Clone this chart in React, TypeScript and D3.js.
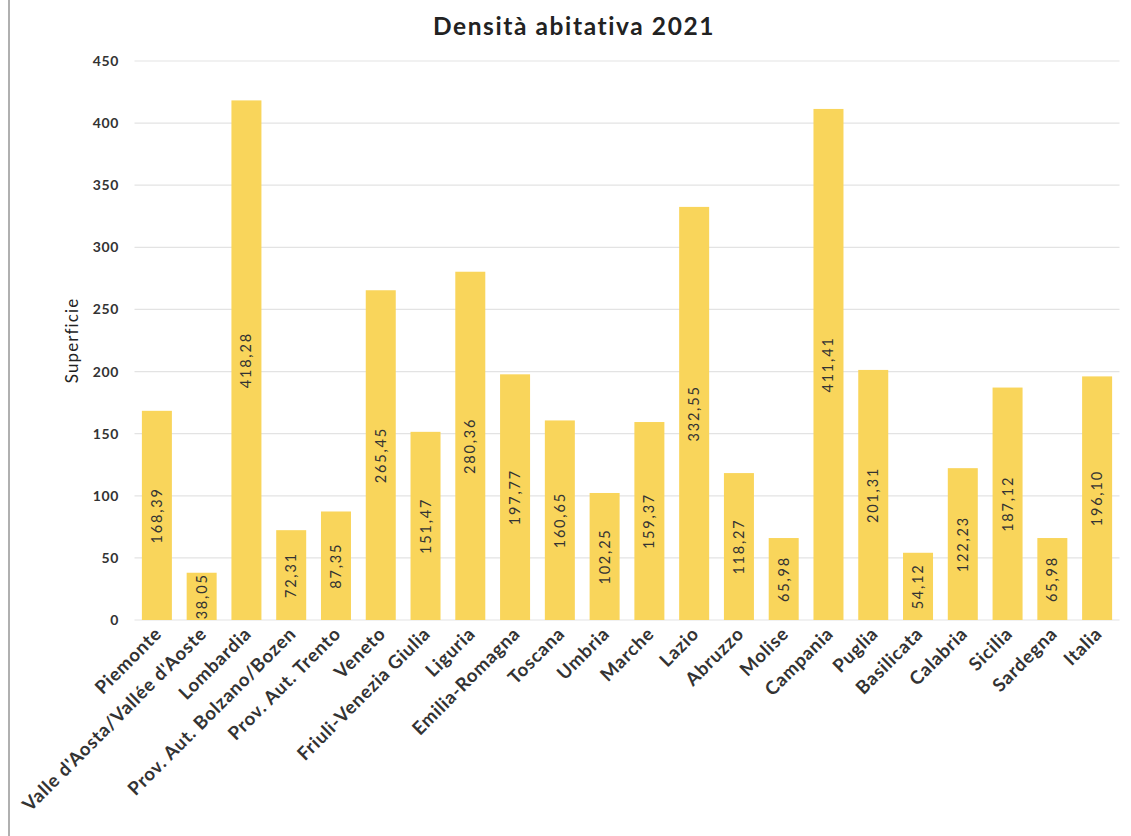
import React from "react";
import * as d3 from "d3";

const categories = [
  "Piemonte", "Valle d'Aosta/Vallée d'Aoste", "Lombardia", "Prov. Aut. Bolzano/Bozen",
  "Prov. Aut. Trento", "Veneto", "Friuli-Venezia Giulia", "Liguria", "Emilia-Romagna",
  "Toscana", "Umbria", "Marche", "Lazio", "Abruzzo", "Molise", "Campania", "Puglia",
  "Basilicata", "Calabria", "Sicilia", "Sardegna", "Italia",
];
const values = [
  168.39, 38.05, 418.28, 72.31, 87.35, 265.45, 151.47, 280.36, 197.77, 160.65, 102.25,
  159.37, 332.55, 118.27, 65.98, 411.41, 201.31, 54.12, 122.23, 187.12, 65.98, 196.1,
];
const yTicks = [0, 50, 100, 150, 200, 250, 300, 350, 400, 450];

const W = 1131, H = 836;
const left = 134.5, right = 1119.5, top = 61, bottom = 620;
const font = "Lato, 'Open Sans', sans-serif";

export default function App() {
  const x = d3.scaleBand<string>().domain(categories).range([left, right]).paddingInner(0.33).paddingOuter(0.165);
  const y = d3.scaleLinear().domain([0, 450]).range([bottom, top]);
  const fmt = (v: number) => v.toFixed(2).replace(".", ",");
  return (
    <svg width={W} height={H} style={{ position: "absolute", left: 0, top: 0, background: "#fff" }}>
      <line x1={9} x2={9} y1={0} y2={H} stroke="#b0b0b0" strokeWidth={2} />
      <text x={574} y={35} textAnchor="middle" fontFamily={font} fontWeight={700} fontSize={24.5} letterSpacing={1.6} fill="#222">
        Densità abitativa 2021
      </text>
      {yTicks.map((t) => (
        <g key={t}>
          <line x1={left} x2={right} y1={y(t)} y2={y(t)} stroke="#e3e3e3" strokeWidth={1.2} />
          <text x={119} y={y(t) + 5} textAnchor="end" fontFamily={font} fontWeight={700} fontSize={14} letterSpacing={0.6} fill="#333">
            {t}
          </text>
        </g>
      ))}
      <text transform={`translate(78,${(top + bottom) / 2}) rotate(-90)`} textAnchor="middle" fontFamily={font} fontSize={17} letterSpacing={1.1} fill="#222">
        Superficie
      </text>
      {categories.map((c, i) => {
        const bx = x(c)!;
        const bw = x.bandwidth();
        const cx = bx + bw / 2;
        const yt = y(values[i]);
        const mid = (yt + bottom) / 2;
        return (
          <g key={c}>
            <rect x={bx} y={yt} width={bw} height={bottom - yt} fill="#F9D55B" />
            <text transform={`translate(${cx + 5},${mid}) rotate(-90)`} textAnchor="middle" fontFamily={font} fontSize={14.5} letterSpacing={1.8} fill="#333">
              {fmt(values[i])}
            </text>
            <text transform={`translate(${cx + 6},${bottom + 15}) rotate(-45)`} textAnchor="end" fontFamily={font} fontWeight={700} fontSize={18.5} letterSpacing={0.75} fill="#333">
              {c}
            </text>
          </g>
        );
      })}
    </svg>
  );
}
